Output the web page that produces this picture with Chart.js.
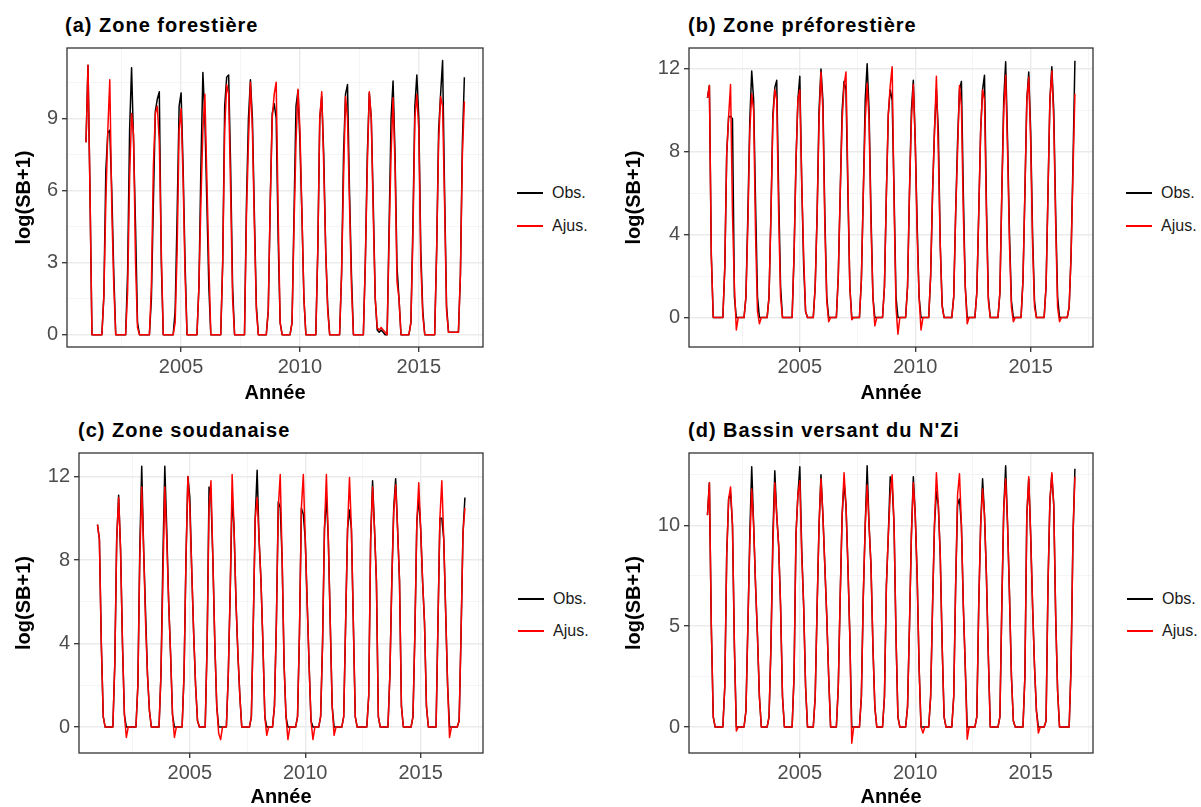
<!DOCTYPE html>
<html><head><meta charset="utf-8">
<script src="https://cdn.jsdelivr.net/npm/chart.js@4.4.1/dist/chart.umd.min.js"></script>
<style>
html,body{margin:0;padding:0;background:#fff;}
body{width:1201px;height:807px;position:relative;overflow:hidden;font-family:"Liberation Sans",Arial,sans-serif;}
canvas{position:absolute;}
.ttl{position:absolute;font-weight:bold;font-size:20px;line-height:20px;letter-spacing:1px;color:#000;white-space:nowrap;}
.leg{position:absolute;font-size:16px;line-height:16px;color:#1a1a1a;white-space:nowrap;}
.ln{position:absolute;width:26px;height:2px;}
</style></head><body>
<div class="ttl" style="left:65px;top:15px">(a) Zone forestière</div>
<div class="ttl" style="left:688px;top:15px">(b) Zone préforestière</div>
<div class="ttl" style="left:78px;top:420px">(c) Zone soudanaise</div>
<div class="ttl" style="left:688px;top:420px">(d) Bassin versant du N'Zi</div>

<canvas id="cA"></canvas><canvas id="cB"></canvas><canvas id="cC"></canvas><canvas id="cD"></canvas>

<div class="ln" style="left:517px;top:192px;background:#000"></div><div class="leg" style="left:552px;top:185px">Obs.</div>
<div class="ln" style="left:517px;top:225px;background:#f00"></div><div class="leg" style="left:552px;top:218px">Ajus.</div>
<div class="ln" style="left:1126px;top:192px;background:#000"></div><div class="leg" style="left:1161px;top:185px">Obs.</div>
<div class="ln" style="left:1126px;top:225px;background:#f00"></div><div class="leg" style="left:1161px;top:218px">Ajus.</div>
<div class="ln" style="left:518px;top:598px;background:#000"></div><div class="leg" style="left:553px;top:591px">Obs.</div>
<div class="ln" style="left:518px;top:630px;background:#f00"></div><div class="leg" style="left:553px;top:623px">Ajus.</div>
<div class="ln" style="left:1127px;top:598px;background:#000"></div><div class="leg" style="left:1162px;top:591px">Obs.</div>
<div class="ln" style="left:1127px;top:630px;background:#f00"></div><div class="leg" style="left:1162px;top:623px">Ajus.</div>

<script>
// ---------- DATA (monthly, Jan..Dec, 2001-2016) ----------
const years = [2001,2002,2003,2004,2005,2006,2007,2008,2009,2010,2011,2012,2013,2014,2015,2016];
const xMajorTicks = [2005, 2010, 2015];
const xMinorTicks = [2002.5, 2007.5, 2012.5, 2017.5];

// (a) Zone forestière
const obsA = [
 8.0,11.2,6.0,0,0,0,0,0,0,1.6,6.8,8.4,
 8.5,6.0,2.6,0,0,0,0,0,0,2.6,8.5,11.1,
 8.0,4.5,0.5,0,0,0,0,0,0,1.5,5.5,9.3,
 9.8,10.1,3.0,0,0,0,0,0,0,1.0,5.0,9.5,
 10.05,7.0,3.0,0,0,0,0,0,0,2.0,7.0,10.9,
 9.0,5.5,2.0,0,0,0,0,0,0,3.0,9.5,10.7,
 10.8,7.0,2.0,0,0,0,0,0,0,5.5,9.0,10.6,
 9.0,5.0,1.2,0,0,0,0,0,1.0,5.5,9.2,9.6,
 9.0,4.0,0.5,0,0,0,0,0,0.5,5.0,9.5,10.15,
 8.0,5.0,1.5,0,0,0,0,0,0,3.5,9.0,9.9,
 7.5,3.5,1.2,0,0,0,0,0,0,2.5,7.5,10.0,
 10.4,6.0,2.5,0,0,0,0,0,0,3.0,7.5,10.05,
 9.0,5.5,1.5,0.2,0.1,0.2,0.1,0,0,4.5,9.0,10.55,
 7.5,2.8,1.5,0,0,0,0,0,0.5,4.5,9.5,10.8,
 9.0,3.5,1.0,0,0,0,0,0,0,3.5,8.5,10.0,
 11.4,6.0,1.2,0.1,0.1,0.1,0.1,0.1,0.1,2.5,8.0,10.7
];
const ajusA = [
 8.0,11.2,6.0,0,0,0,0,0,0,1.6,5.5,8.5,
 10.6,5.3,2.1,0,0,0,0,0,0,1.8,6.5,9.2,
 8.3,3.0,0.3,0,0,0,0,0,0,2.0,7.0,9.2,
 9.5,8.0,3.5,0,0,0,0,0,0,0.5,3.5,8.5,
 9.4,6.5,2.5,0,0,0,0,0,0,2.0,5.5,8.5,
 10.0,6.5,3.0,0,0,0,0,0,0,3.0,8.5,10.4,
 10.0,6.0,1.5,0,0,0,0,0,0,5.0,8.0,10.5,
 8.5,4.5,1.0,0,0,0,0,0,1.0,5.5,9.0,10.0,
 10.5,5.0,0.5,0,0,0,0,0,0.5,4.5,8.0,10.2,
 8.5,5.0,1.5,0,0,0,0,0,0,3.5,9.0,10.1,
 7.0,3.5,1.0,0,0,0,0,0,0,2.5,6.5,9.9,
 9.0,5.5,2.0,0,0,0,0,0,0,3.0,7.0,10.1,
 9.0,5.0,1.5,0.3,0.2,0.3,0.2,0.1,0,4.0,7.5,9.85,
 7.0,2.2,1.5,0,0,0,0,0,0.5,4.0,9.0,10.0,
 8.5,3.0,0.8,0,0,0,0,0,0,3.5,8.0,9.9,
 9.5,5.5,1.0,0.1,0.1,0.1,0.1,0.1,0.1,2.5,7.5,9.7
];

// (b) Zone préforestière
const obsB = [
 10.6,11.2,3.0,0,0,0,0,0,0,2.4,7.9,9.7,
 9.7,9.6,1.0,0,0,0,0,0,1.0,5.0,9.5,11.9,
 10.5,5.5,1.0,0,0,0,0,0,1.0,5.0,9.8,11.1,
 11.45,6.0,1.5,0,0,0,0,0,0,3.0,7.5,10.5,
 11.65,6.5,2.5,0.3,0,0,0,0,1.5,5.0,10.0,12.0,
 10.5,5.0,1.0,0,0,0,0,0,2.0,6.0,10.0,11.4,
 11.0,6.0,1.5,0,0,0,0,0,1.8,6.0,10.5,12.25,
 10.0,5.0,1.0,0,0,0,0,0,1.5,6.0,9.8,11.0,
 10.5,6.0,1.0,0,0,0,0,0,1.5,6.0,10.0,11.45,
 8.5,4.5,1.0,0,0,0,0,0,2.0,6.0,9.0,11.0,
 9.0,3.5,0.6,0,0,0,0,0,1.0,5.0,8.5,11.0,
 11.4,6.0,1.5,0,0,0,0,0,1.2,5.0,9.0,11.0,
 11.7,5.5,1.0,0,0,0,0,0,1.2,6.0,10.5,12.35,
 8.5,4.0,0.8,0,0,0,0,0,1.8,6.0,10.5,11.85,
 9.0,4.0,0.8,0,0,0,0,0,1.5,6.0,10.5,12.1,
 10.0,5.0,1.0,0,0,0,0,0,0.5,3.0,7.5,12.4
];
const ajusB = [
 10.6,11.2,3.0,0,0,0,0,0,0,2.4,7.9,9.7,
 11.25,5.0,1.5,-0.6,0,0,0,0,1.0,4.5,9.0,10.8,
 10.0,4.0,0.3,-0.3,0,0,0,0,1.0,5.0,9.5,11.0,
 10.5,5.0,1.0,0,0,0,0,0,0,3.0,7.5,10.5,
 11.0,6.5,3.0,0.3,0,0,0,0,1.5,5.0,9.5,11.85,
 10.0,4.5,0.8,-0.2,0,0,0,0,2.0,6.0,9.5,11.2,
 11.85,6.5,1.5,-0.1,0,0,0,0,1.8,6.0,9.5,11.3,
 9.5,4.5,1.0,-0.4,0,0,0,0,1.5,6.0,9.8,11.2,
 12.1,5.5,0.5,-0.8,0,0,0,0,1.5,6.0,9.5,11.25,
 8.5,4.0,1.0,-0.6,0,0,0,0,2.0,6.0,9.0,11.65,
 8.0,3.5,0.5,0,0,0,0,0,1.0,5.0,8.0,11.2,
 10.2,5.0,1.5,-0.3,0,0,0,0,1.2,5.0,9.0,11.0,
 10.5,5.0,0.8,0,0,0,0,0,1.2,6.0,10.0,11.7,
 8.0,3.5,0.5,-0.2,0,0,0,0,1.8,6.0,10.5,11.6,
 8.5,3.5,0.5,0,0,0,0,0,1.5,6.0,10.5,11.9,
 9.5,4.5,0.5,-0.2,0,0,0,0,0.5,3.0,7.0,10.8
];

// (c) Zone soudanaise
const obsC = [
 9.7,9.0,4.0,0.5,0,0,0,0,0,3.0,9.0,11.1,
 8.5,4.0,0.6,0,0,0,0,0,0,2.0,8.5,12.5,
 8.5,5.5,2.5,0.8,0,0,0,0,0,2.5,8.0,12.5,
 9.5,6.0,3.5,0.6,0,0,0,0,0,2.5,8.0,12.0,
 11.0,7.5,4.5,2.0,0.3,0,0,0,0,4.0,11.5,11.0,
 8.0,4.0,1.0,0,0,0,0,0,2.5,6.5,11.1,9.5,
 6.0,3.5,1.5,0,0,0,0,0,0.5,5.0,10.0,12.3,
 9.0,7.0,4.0,0.5,0,0,0,0,1.0,5.0,10.8,10.5,
 8.0,3.0,0.5,0,0,0,0,0,0.5,4.5,10.5,10.2,
 9.0,6.0,3.0,0.3,0,0,0,0,0.5,4.0,9.5,11.0,
 9.0,5.0,1.0,0,0,0,0,0,0.5,5.0,9.5,10.4,
 9.5,5.0,0.5,0,0,0,0,0,0,1.5,9.0,11.8,
 9.5,7.0,0.5,0,0,0,0,0,2.5,7.0,10.5,11.9,
 9.5,7.0,1.0,0,0,0,0,0,0.5,4.5,9.8,11.0,
 9.5,7.0,5.0,1.0,0,0,0,0,0,5.0,10.0,10.0,
 9.0,5.5,2.0,0,0,0,0,0,0.3,4.5,9.3,11.0
];
const ajusC = [
 9.7,9.0,4.0,0.5,0,0,0,0,0,3.0,9.0,11.0,
 8.5,4.0,0.6,-0.5,0,0,0,0,0,2.0,8.0,11.5,
 8.5,5.0,2.5,0.8,0,0,0,0,0,2.5,7.0,11.5,
 9.0,6.0,3.5,0.6,-0.5,0,0,0,0,2.5,8.0,12.0,
 10.5,7.5,4.5,2.0,0.3,0,0,0,0,4.0,10.5,11.8,
 8.0,4.0,1.0,-0.3,-0.6,0,0,0,2.5,6.5,12.1,9.5,
 6.0,3.5,1.5,0,0,0,0,0,0.5,5.0,10.0,11.0,
 9.0,7.0,4.0,0.5,-0.4,0,0,0,1.0,5.0,10.5,12.1,
 8.0,3.0,0.5,-0.6,0,0,0,0,0.5,4.5,10.5,12.1,
 9.0,6.0,3.0,0.3,-0.6,0,0,0,0.5,4.0,9.5,12.1,
 9.0,5.0,1.0,-0.4,0,0,0,0,0.5,5.0,9.5,11.96,
 9.5,5.0,0.5,0,0,0,0,0,0,1.5,9.0,11.5,
 9.5,7.0,0.5,0,0,0,0,0,2.5,7.0,10.3,11.6,
 9.5,7.0,1.0,0,0,0,0,0,0.5,4.5,9.8,11.7,
 9.5,7.0,5.0,1.0,0,0,0,0,0,5.0,10.0,11.8,
 9.0,5.5,2.0,-0.5,0,0,0,0,0.3,4.5,9.3,10.5
];

// (d) Bassin versant du N'Zi
const obsD = [
 10.5,12.1,5.0,0.5,0,0,0,0,0,2.0,8.5,11.3,
 11.6,10.0,4.0,0,0,0,0,0,0.8,5.0,9.5,12.9,
 10.0,7.0,4.5,1.5,0,0,0,0,0.5,4.0,9.5,12.7,
 10.5,9.0,6.0,1.5,0,0,0,0,0,2.5,9.5,11.5,
 12.9,8.8,6.0,2.0,0,0,0,0,1.5,6.0,10.0,12.5,
 10.5,8.0,5.5,2.5,0,0,0,0,2.0,6.5,10.5,12.1,
 11.0,8.0,4.5,0,0,0,0,0,1.5,6.5,10.0,12.95,
 10.0,8.0,4.0,1.0,0,0,0,0,1.5,7.0,9.5,12.4,
 12.0,10.0,4.5,0.5,0,0,0,0,1.0,5.0,9.5,12.4,
 10.5,7.5,3.0,0,0,0,0,0,1.5,6.0,10.0,11.7,
 11.0,8.5,4.0,0.5,0,0,0,0,1.5,7.0,11.0,11.3,
 10.0,6.0,3.0,0,0,0,0,0,0.5,6.0,10.0,12.3,
 10.5,7.5,3.5,0,0,0,0,0,0.5,6.0,10.8,12.95,
 10.0,6.5,2.5,0.3,0,0,0,0,0,2.5,10.5,12.3,
 9.5,6.0,3.0,0.8,0,0,0,0,0.3,7.0,11.2,12.5,
 11.0,5.5,1.8,0,0,0,0,0,0,3.0,9.5,12.8
];
const ajusD = [
 10.5,12.1,5.0,0.5,0,0,0,0,0,2.0,8.5,11.3,
 11.9,10.0,4.0,-0.2,0,0,0,0,0.8,5.0,9.0,11.8,
 10.0,7.0,4.5,1.5,0,0,0,0,0.5,4.0,9.0,12.1,
 10.5,9.0,6.0,1.5,0,0,0,0,0,2.5,9.5,11.5,
 12.2,8.5,6.0,2.0,0,0,0,0,1.5,6.0,10.0,12.3,
 10.5,8.0,5.5,2.5,0,0,0,0,2.0,6.5,10.5,12.6,
 11.0,8.0,4.5,-0.8,0,0,0,0,1.5,6.5,10.0,12.0,
 10.0,8.0,4.0,1.0,0,0,0,0,1.5,7.0,9.5,11.5,
 12.5,10.0,4.5,0.5,0,0,0,0,1.0,5.0,9.5,12.1,
 10.5,7.5,3.0,0,-0.3,0,0,0,1.5,6.0,10.0,12.6,
 11.0,8.5,4.0,0.5,0,0,0,0,1.5,7.0,11.5,12.55,
 10.0,6.0,3.0,-0.6,0,0,0,0,0.5,6.0,10.0,11.8,
 10.5,7.5,3.5,0,0,0,0,0,0.5,6.0,10.8,12.3,
 10.0,6.5,2.5,0.3,0,0,0,0,0,2.5,10.5,12.4,
 9.5,6.0,3.0,0.8,-0.3,0,0,0,0.3,7.0,11.2,12.6,
 11.0,5.5,1.8,0,0,0,0,0,0,3.0,9.5,12.4
];

// y tick labels (major) and minor grid positions
const yMajorA = [0,3,6,9],  yMinorA = [1.5,4.5,7.5,10.5];
const yMajorB = [0,4,8,12], yMinorB = [2,6,10];
const yMajorC = [0,4,8,12], yMinorC = [2,6,10];
const yMajorD = [0,5,10],   yMinorD = [2.5,7.5,12.5];

// ---------- RENDERING ----------
const FONT = "'Liberation Sans', Arial, Helvetica, sans-serif";
Chart.defaults.font.family = FONT;

function series(vals){
  const pts = [];
  for (let i = 0; i < vals.length; i++) {
    pts.push({x: years[Math.floor(i/12)] + (i % 12)/12, y: vals[i]});
  }
  return pts;
}

const panelBorder = {
  id: 'panelBorder',
  afterDatasetsDraw(chart){
    const {ctx, chartArea: a} = chart;
    ctx.save();
    ctx.strokeStyle = '#333333';
    ctx.lineWidth = 1.3;
    ctx.strokeRect(a.left, a.top, a.right - a.left, a.bottom - a.top);
    ctx.restore();
  }
};

function isIn(list, v){ return list.some(t => Math.abs(t - v) < 1e-9); }

function makePanel(id, box, obs, ajus, yRange, yMaj, yMin){
  const cv = document.getElementById(id);
  cv.width = box.w; cv.height = box.h;
  cv.style.left = box.x + 'px'; cv.style.top = box.y + 'px';
  cv.style.width = box.w + 'px'; cv.style.height = box.h + 'px';
  const xAll = xMajorTicks.concat(xMinorTicks).sort((a,b)=>a-b);
  const yAll = yMaj.concat(yMin).sort((a,b)=>a-b);
  const gridCol = '#EBEBEB';
  new Chart(cv, {
    type: 'line',
    data: { datasets: [
      { label: 'Ajus.', data: series(ajus), borderColor: '#FF0000', borderWidth: 1.5,
        pointRadius: 0, tension: 0, order: 0, borderJoinStyle: 'round', fill: false },
      { label: 'Obs.', data: series(obs), borderColor: '#000000', borderWidth: 1.5,
        pointRadius: 0, tension: 0, order: 1, borderJoinStyle: 'round', fill: false }
    ]},
    options: {
      animation: false, responsive: false, devicePixelRatio: 1, parsing: false,
      events: [],
      layout: { padding: { top: box.pt, right: 10, bottom: 0, left: 0 } },
      plugins: { legend: { display: false }, tooltip: { enabled: false }, title: { display: false } },
      scales: {
        x: {
          type: 'linear', min: 2000.2, max: 2017.7,
          afterBuildTicks: s => { s.ticks = xAll.map(v => ({value: v})); },
          afterFit: s => { s.height = box.hx; },
          ticks: { autoSkip: false, maxRotation: 0, color: '#4D4D4D', padding: 3,
                   font: { size: 20 },
                   callback: v => isIn(xMajorTicks, v) ? String(v) : '' },
          grid: {
            color: c => isIn(xMajorTicks, c.tick.value) ? gridCol : '#F2F2F2',
            lineWidth: c => isIn(xMajorTicks, c.tick.value) ? 1.4 : 0.8,
            tickColor: c => isIn(xMajorTicks, c.tick.value) ? '#333333' : 'rgba(0,0,0,0)',
            tickLength: 5, tickWidth: 1.3, drawTicks: true
          },
          border: { display: false },
          title: { display: true, text: 'Année', color: '#000',
                   font: { size: 20, weight: 'bold', lineHeight: 1 }, padding: 0 }
        },
        y: {
          type: 'linear', min: yRange[0], max: yRange[1],
          afterBuildTicks: s => { s.ticks = yAll.map(v => ({value: v})); },
          afterFit: s => { s.width = box.wy; },
          ticks: { autoSkip: false, color: '#4D4D4D', padding: 4,
                   font: { size: 20 },
                   callback: v => isIn(yMaj, v) ? String(v) : '' },
          grid: {
            color: c => isIn(yMaj, c.tick.value) ? gridCol : '#F2F2F2',
            lineWidth: c => isIn(yMaj, c.tick.value) ? 1.4 : 0.8,
            tickColor: c => isIn(yMaj, c.tick.value) ? '#333333' : 'rgba(0,0,0,0)',
            tickLength: 5, tickWidth: 1.3, drawTicks: true
          },
          border: { display: false },
          title: { display: true, text: 'log(SB+1)', color: '#000',
                   font: { size: 20, weight: 'bold', lineHeight: 1 }, padding: 0 }
        }
      }
    },
    plugins: [panelBorder]
  });
}

// canvas boxes: x,y = canvas origin; wy = y-axis width; hx = x-axis height; pt = top padding
makePanel('cA', {x:14,  y:32,  w:479, h:371, wy:53, hx:56, pt:15}, obsA, ajusA, [-0.51, 11.92], yMajorA, yMinorA);
makePanel('cB', {x:624, y:32,  w:479, h:371, wy:65, hx:56, pt:15}, obsB, ajusB, [-1.42, 13.01], yMajorB, yMinorB);
makePanel('cC', {x:14,  y:437, w:479, h:370, wy:65, hx:54, pt:15}, obsC, ajusC, [-1.245, 13.13], yMajorC, yMinorC);
makePanel('cD', {x:624, y:437, w:479, h:370, wy:65, hx:54, pt:15}, obsD, ajusD, [-1.287, 13.58], yMajorD, yMinorD);
</script>
</body></html>
